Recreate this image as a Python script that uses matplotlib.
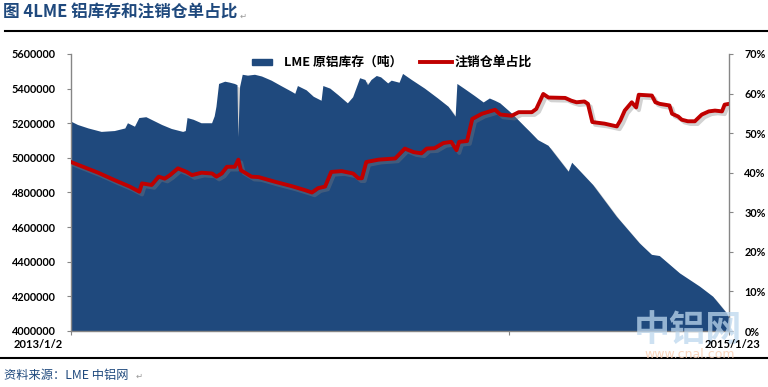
import matplotlib
matplotlib.use('Agg')
import matplotlib.pyplot as plt
import matplotlib.patheffects as pe
from matplotlib.patches import Rectangle
from matplotlib.lines import Line2D

plt.rcParams['font.family'] = ['Lato', 'Noto Sans CJK SC', 'DejaVu Sans']

# ---------------- data ----------------
start_label = '2013/1/2'
end_label = '2015/1/23'
total_days = 751  # 2013-01-02 .. 2015-01-23

# LME aluminium stock (tonnes), x = days since 2013-01-02
stock_days = [0, 8, 20, 35, 50, 62, 65, 73, 78, 86, 92, 104, 115, 128, 131, 133,
              140, 149, 161, 164, 166, 169, 176, 181, 187, 190, 191, 193, 196, 202,
              210, 218, 229, 240, 252, 256, 259, 269, 277, 286, 288, 296, 305, 316,
              322, 330, 336, 339, 343, 349, 354, 362, 366, 375, 379, 389, 404, 419,
              431, 439, 441, 450, 461, 471, 478, 484, 490, 503, 518, 524, 533, 545,
              568, 572, 596, 623, 649, 663, 672, 695, 718, 733, 748, 751]
stock_tonnes = [5210000, 5190000, 5170000, 5150000, 5155000, 5170000, 5200000, 5180000,
                5230000, 5235000, 5220000, 5190000, 5167000, 5150000, 5155000, 5230000,
                5220000, 5200000, 5200000, 5240000, 5295000, 5427000, 5440000, 5435000,
                5427000, 5420000, 5120000, 5410000, 5480000, 5475000, 5480000, 5470000,
                5446000, 5415000, 5382000, 5370000, 5415000, 5390000, 5353000, 5330000,
                5415000, 5400000, 5363000, 5315000, 5350000, 5460000, 5450000, 5420000,
                5450000, 5473000, 5465000, 5430000, 5446000, 5434000, 5485000, 5450000,
                5400000, 5343000, 5295000, 5238000, 5427000, 5396000, 5357000, 5320000,
                5343000, 5330000, 5315000, 5257000, 5180000, 5150000, 5103000, 5070000,
                4920000, 4972000, 4843000, 4660000, 4507000, 4440000, 4433000, 4333000,
                4256000, 4198000, 4106000, 4080000]

# cancelled warrants ratio (%)
ratio_days = [0, 16, 31, 50, 67, 78, 81, 92, 100, 107, 113, 122, 132, 138, 149, 161,
              166, 172, 178, 187, 191, 194, 206, 214, 233, 252, 267, 275, 282, 290,
              297, 309, 322, 328, 332, 337, 351, 370, 381, 391, 400, 406, 415, 425,
              434, 440, 443, 452, 458, 469, 484, 490, 503, 511, 526, 531, 539, 545,
              564, 571, 577, 586, 590, 595, 609, 623, 627, 632, 640, 645, 648, 663,
              667, 672, 683, 686, 693, 697, 704, 712, 720, 728, 735, 743, 746, 751]
ratio_pct = [42.7, 41.3, 40.0, 38.1, 36.5, 35.2, 37.3, 36.9, 39.0, 38.5, 39.4, 41.1,
             40.2, 39.4, 40.0, 39.8, 39.0, 39.8, 41.5, 41.5, 43.3, 40.6, 39.0, 38.9,
             37.7, 36.6, 35.6, 35.0, 36.1, 36.5, 40.2, 40.4, 39.8, 38.6, 38.6, 42.7,
             43.3, 43.6, 46.1, 45.2, 44.9, 46.1, 46.2, 47.5, 47.8, 45.7, 47.8, 48.0,
             53.6, 54.9, 55.9, 54.7, 54.4, 55.3, 55.3, 56.1, 59.9, 59.0, 58.9, 58.2,
             57.8, 58.0, 57.4, 52.8, 52.4, 51.7, 53.2, 55.7, 57.8, 56.5, 59.7, 59.5,
             57.8, 57.4, 57.0, 54.9, 54.2, 53.4, 53.0, 53.0, 54.7, 55.5, 55.7, 55.5,
             57.2, 57.4]

left_ticks = [4000000, 4200000, 4400000, 4600000, 4800000, 5000000, 5200000, 5400000, 5600000]
right_ticks = [0, 10, 20, 30, 40, 50, 60, 70]

title_text = '图 4LME 铝库存和注销仓单占比'
legend_stock = 'LME 原铝库存（吨）'
legend_ratio = '注销仓单占比'
source_text = '资料来源：LME 中铝网'

# ---------------- styling ----------------
W, H = 768, 387
BLUE = '#1F497D'
RED = '#C00000'
GRAY = '#868686'
CJK = ['Noto Sans CJK SC', 'DejaVu Sans']


def fx(x):
    return x / W


def fy(y):
    return 1 - y / H


fig = plt.figure(figsize=(W / 100, H / 100), dpi=100)
ax = fig.add_axes([fx(71), 56 / H, 658 / W, 277 / H])

shadow = [pe.SimplePatchShadow(offset=(2, -2), shadow_rgbFace='#7f7f7f', alpha=0.35), pe.Normal()]
ax.fill_between(stock_days, left_ticks[0], stock_tonnes, color=BLUE, lw=0,
                path_effects=shadow)
ax.set_xlim(0, total_days)
ax.set_ylim(left_ticks[0], left_ticks[-1])
ax.set_yticks(left_ticks)
ax.set_yticklabels([str(v) for v in left_ticks])
ax.set_xticks([0, 500, total_days])
ax.set_xticklabels(['', '', ''])

ax2 = ax.twinx()
ax2.plot(ratio_days, ratio_pct, color=RED, lw=2.8, solid_joinstyle='round',
         path_effects=[pe.SimpleLineShadow(offset=(2, -2), shadow_color='#7f7f7f', alpha=0.35),
                       pe.Normal()])
ax2.set_ylim(0, 70)
ax2.set_yticks(right_ticks)
ax2.set_yticklabels([f'{v}%' for v in right_ticks])
ax2.set_xlim(0, total_days)

for a in (ax, ax2):
    a.spines['top'].set_visible(False)
    for s in ('left', 'right', 'bottom'):
        a.spines[s].set_color(GRAY)
        a.spines[s].set_linewidth(1.0)
ax.spines['right'].set_visible(False)
ax2.spines['left'].set_visible(False)
ax2.spines['bottom'].set_visible(False)

ax.tick_params(axis='y', direction='out', length=3, width=0.8, color=GRAY, pad=8,
               labelsize=7.8, labelcolor='black')
ax.tick_params(axis='x', direction='out', length=3, width=0.8, color=GRAY)
ax2.tick_params(axis='y', direction='out', length=3, width=0.8, color=GRAY, pad=8,
                labelsize=7.8, labelcolor='black')
for lab in ax.get_yticklabels() + ax2.get_yticklabels():
    lab.set_fontweight('bold')

# watermark (drawn first so labels sit on top)
fig.text(fx(688), fy(331), '中铝网', ha='center', va='center', fontsize=26, color='#BDD7EE',
         alpha=0.75, family=CJK, weight='bold')
fig.text(fx(690), fy(354), 'www.cnal.com', ha='center', va='center', fontsize=9,
         color='#F8CBAD', alpha=0.8, family=['DejaVu Sans'])

# x labels
fig.text(fx(38), fy(344), start_label, ha='center', va='center', fontsize=8, weight='bold')
fig.text(fx(732), fy(344), end_label, ha='center', va='center', fontsize=8, weight='bold')

# legend (manual)
fig.add_artist(Rectangle((fx(252), fy(65)), 20 / W, 6 / H, color=BLUE, transform=fig.transFigure))
fig.text(fx(284), fy(62), legend_stock, ha='left', va='center', fontsize=9.2, family=CJK,
         weight='bold')
fig.add_artist(Line2D([fx(420), fx(452)], [fy(62), fy(62)], color=RED, lw=2.8))
fig.text(fx(455), fy(62), legend_ratio, ha='left', va='center', fontsize=9.3, family=CJK,
         weight='bold')

# title and rules
fig.text(fx(3), fy(13), title_text, ha='left', va='center', fontsize=12, weight='bold',
         color=BLUE, family=CJK)
fig.text(fx(240), fy(16), '\u21b5', ha='left', va='center', fontsize=6, color='#999999',
         family=['DejaVu Sans'])
fig.add_artist(Line2D([fx(5), 1], [fy(31), fy(31)], color='black', lw=1.5))
fig.add_artist(Line2D([0, 1], [fy(358), fy(358)], color='black', lw=1.5))
fig.text(fx(4), fy(375), source_text, ha='left', va='center', fontsize=8.8, style='italic',
         color=BLUE, family=CJK)
fig.text(fx(136), fy(376), '\u21b5', ha='left', va='center', fontsize=6, color='#999999',
         family=['DejaVu Sans'])

fig.savefig('out.png', dpi=100)
